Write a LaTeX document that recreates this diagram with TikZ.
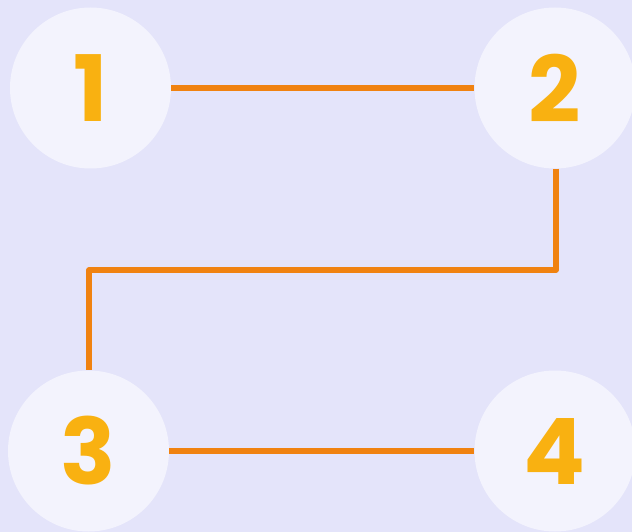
\documentclass[tikz,border=0pt]{standalone}
\usepackage{fontspec}
\newfontfamily\numfont{Poppins}
\definecolor{bgc}{HTML}{E4E4FA}
\definecolor{circc}{HTML}{F3F3FD}
\definecolor{numc}{HTML}{F9B111}
\definecolor{linec}{HTML}{F08210}
\begin{document}
\begin{tikzpicture}[x=1bp,y=-1bp,
  numcirc/.style={circle,fill=circc,minimum size=161bp,inner sep=0pt,
    font=\numfont\bfseries\fontsize{92}{92}\selectfont,text=numc},
  conn/.style={draw=linec,line width=5.5bp,line join=round}]
\fill[bgc] (0,0) rectangle (632,532);
\useasboundingbox (0,0) rectangle (632,532);
\node[numcirc] (n1) at (90.5,88) {1};
\node[numcirc] (n2) at (555,88) {2};
\node[numcirc] (n3) at (88.5,451) {3};
\node[numcirc] (n4) at (555,451) {4};
\coordinate (c1) at (556,270);
\coordinate (c2) at (89,270);
\draw[conn] (n1.east) -- (n2.west);
\draw[conn] (n2.south -| c1) -- (c1) -- (c2) -- (n3.north -| c2);
\draw[conn] (n3.east) -- (n4.west);
\end{tikzpicture}
\end{document}
